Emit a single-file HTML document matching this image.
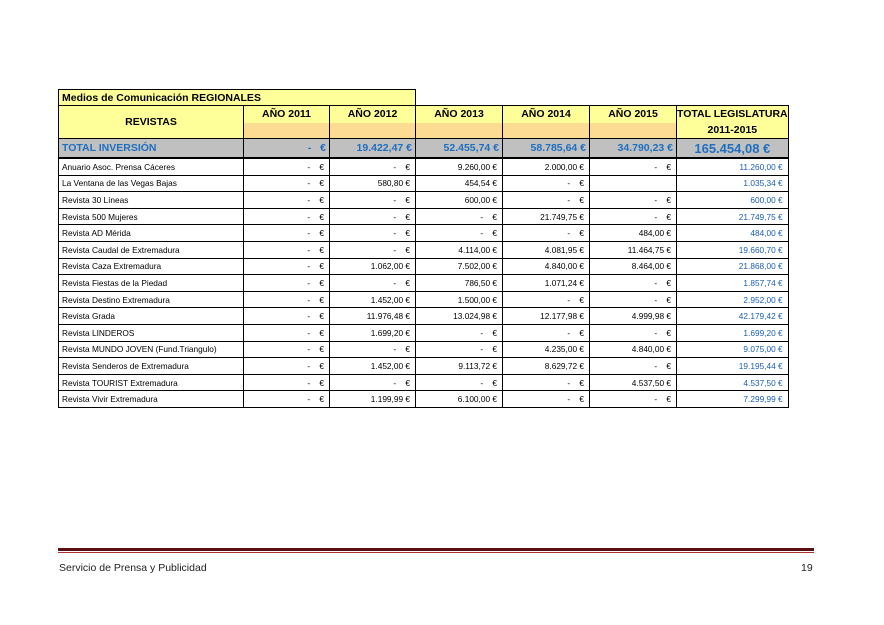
<!DOCTYPE html>
<html><head><meta charset="utf-8"><style>
body{margin:0;width:884px;height:625px;background:#fff;position:relative;overflow:hidden;font-family:"Liberation Sans",Arial,sans-serif}
table{position:absolute;border-collapse:collapse;table-layout:fixed}
td{border:1px solid #000;padding:0 3px;white-space:nowrap;overflow:hidden}
#t{left:58px;top:89px}
.hd{background:#ffff99;font-weight:bold;font-size:10.5px;text-align:center}
.or{background:#fbdc92}
.tot td{background:#c0c0c0;color:#1f6fc0;font-weight:bold;font-size:10.5px;text-align:right;height:18px;border-bottom:2px solid #000}
.d td{font-family:"Liberation Sans",sans-serif;font-size:8.3px;height:15.6px;text-align:right;padding-right:5px;color:#000}
.d td:first-child{text-align:left}
.d td:last-child{color:#1a5fb4}
</style></head><body>
<table id="t">
<colgroup><col style="width:185px"><col style="width:86px"><col style="width:86px"><col style="width:87px"><col style="width:87px"><col style="width:87px"><col style="width:111px"></colgroup>
<tr style="height:16px"><td colspan="3" class="hd" style="text-align:left;border-bottom:1px solid #000">Medios de Comunicación REGIONALES</td><td colspan="4" style="border:none;border-bottom:1px solid #000"></td></tr>
<tr style="height:17px"><td rowspan="2" class="hd">REVISTAS</td><td class="hd" style="border-bottom:none">AÑO 2011</td><td class="hd" style="border-bottom:none">AÑO 2012</td><td class="hd" style="border-bottom:none">AÑO 2013</td><td class="hd" style="border-bottom:none">AÑO 2014</td><td class="hd" style="border-bottom:none">AÑO 2015</td><td class="hd" style="border-bottom:none;padding:0">TOTAL LEGISLATURA</td></tr>
<tr style="height:16px"><td class="or" style="border-top:none"></td><td class="or" style="border-top:none"></td><td class="or" style="border-top:none"></td><td class="or" style="border-top:none"></td><td class="or" style="border-top:none"></td><td class="hd" style="border-top:none">2011-2015</td></tr>
<tr class="tot"><td style="text-align:left">TOTAL INVERSIÓN</td><td>- &nbsp;&nbsp;€</td><td>19.422,47 €</td><td>52.455,74 €</td><td>58.785,64 €</td><td>34.790,23 €</td><td style="font-size:13px;text-align:center">165.454,08 €</td></tr>
<tr class="d"><td>Anuario Asoc. Prensa Cáceres</td><td>- &nbsp;&nbsp;&nbsp;€</td><td>- &nbsp;&nbsp;&nbsp;€</td><td>9.260,00 €</td><td>2.000,00 €</td><td>- &nbsp;&nbsp;&nbsp;€</td><td>11.260,00 €</td></tr>
<tr class="d"><td>La Ventana de las Vegas Bajas</td><td>- &nbsp;&nbsp;&nbsp;€</td><td>580,80 €</td><td>454,54 €</td><td>- &nbsp;&nbsp;&nbsp;€</td><td></td><td>1.035,34 €</td></tr>
<tr class="d"><td>Revista 30 Líneas</td><td>- &nbsp;&nbsp;&nbsp;€</td><td>- &nbsp;&nbsp;&nbsp;€</td><td>600,00 €</td><td>- &nbsp;&nbsp;&nbsp;€</td><td>- &nbsp;&nbsp;&nbsp;€</td><td>600,00 €</td></tr>
<tr class="d"><td>Revista 500 Mujeres</td><td>- &nbsp;&nbsp;&nbsp;€</td><td>- &nbsp;&nbsp;&nbsp;€</td><td>- &nbsp;&nbsp;&nbsp;€</td><td>21.749,75 €</td><td>- &nbsp;&nbsp;&nbsp;€</td><td>21.749,75 €</td></tr>
<tr class="d"><td>Revista AD Mérida</td><td>- &nbsp;&nbsp;&nbsp;€</td><td>- &nbsp;&nbsp;&nbsp;€</td><td>- &nbsp;&nbsp;&nbsp;€</td><td>- &nbsp;&nbsp;&nbsp;€</td><td>484,00 €</td><td>484,00 €</td></tr>
<tr class="d"><td>Revista Caudal de Extremadura</td><td>- &nbsp;&nbsp;&nbsp;€</td><td>- &nbsp;&nbsp;&nbsp;€</td><td>4.114,00 €</td><td>4.081,95 €</td><td>11.464,75 €</td><td>19.660,70 €</td></tr>
<tr class="d"><td>Revista Caza Extremadura</td><td>- &nbsp;&nbsp;&nbsp;€</td><td>1.062,00 €</td><td>7.502,00 €</td><td>4.840,00 €</td><td>8.464,00 €</td><td>21.868,00 €</td></tr>
<tr class="d"><td>Revista Fiestas de la Piedad</td><td>- &nbsp;&nbsp;&nbsp;€</td><td>- &nbsp;&nbsp;&nbsp;€</td><td>786,50 €</td><td>1.071,24 €</td><td>- &nbsp;&nbsp;&nbsp;€</td><td>1.857,74 €</td></tr>
<tr class="d"><td>Revista Destino Extremadura</td><td>- &nbsp;&nbsp;&nbsp;€</td><td>1.452,00 €</td><td>1.500,00 €</td><td>- &nbsp;&nbsp;&nbsp;€</td><td>- &nbsp;&nbsp;&nbsp;€</td><td>2.952,00 €</td></tr>
<tr class="d"><td>Revista Grada</td><td>- &nbsp;&nbsp;&nbsp;€</td><td>11.976,48 €</td><td>13.024,98 €</td><td>12.177,98 €</td><td>4.999,98 €</td><td>42.179,42 €</td></tr>
<tr class="d"><td>Revista LINDEROS</td><td>- &nbsp;&nbsp;&nbsp;€</td><td>1.699,20 €</td><td>- &nbsp;&nbsp;&nbsp;€</td><td>- &nbsp;&nbsp;&nbsp;€</td><td>- &nbsp;&nbsp;&nbsp;€</td><td>1.699,20 €</td></tr>
<tr class="d"><td>Revista MUNDO JOVEN (Fund.Triangulo)</td><td>- &nbsp;&nbsp;&nbsp;€</td><td>- &nbsp;&nbsp;&nbsp;€</td><td>- &nbsp;&nbsp;&nbsp;€</td><td>4.235,00 €</td><td>4.840,00 €</td><td>9.075,00 €</td></tr>
<tr class="d"><td>Revista Senderos de Extremadura</td><td>- &nbsp;&nbsp;&nbsp;€</td><td>1.452,00 €</td><td>9.113,72 €</td><td>8.629,72 €</td><td>- &nbsp;&nbsp;&nbsp;€</td><td>19.195,44 €</td></tr>
<tr class="d"><td>Revista TOURIST Extremadura</td><td>- &nbsp;&nbsp;&nbsp;€</td><td>- &nbsp;&nbsp;&nbsp;€</td><td>- &nbsp;&nbsp;&nbsp;€</td><td>- &nbsp;&nbsp;&nbsp;€</td><td>4.537,50 €</td><td>4.537,50 €</td></tr>
<tr class="d"><td>Revista Vivir Extremadura</td><td>- &nbsp;&nbsp;&nbsp;€</td><td>1.199,99 €</td><td>6.100,00 €</td><td>- &nbsp;&nbsp;&nbsp;€</td><td>- &nbsp;&nbsp;&nbsp;€</td><td>7.299,99 €</td></tr>
</table>
<div style="position:absolute;left:58px;top:548px;width:756px;height:3px;background:#5a1010"></div>
<div style="position:absolute;left:58px;top:552px;width:756px;height:1px;background:#b03030"></div>
<div style="position:absolute;left:59px;top:562px;font-size:10.5px;color:#222">Servicio de Prensa y Publicidad</div>
<div style="position:absolute;left:801px;top:562px;font-size:10.5px;color:#222">19</div>
</body></html>
